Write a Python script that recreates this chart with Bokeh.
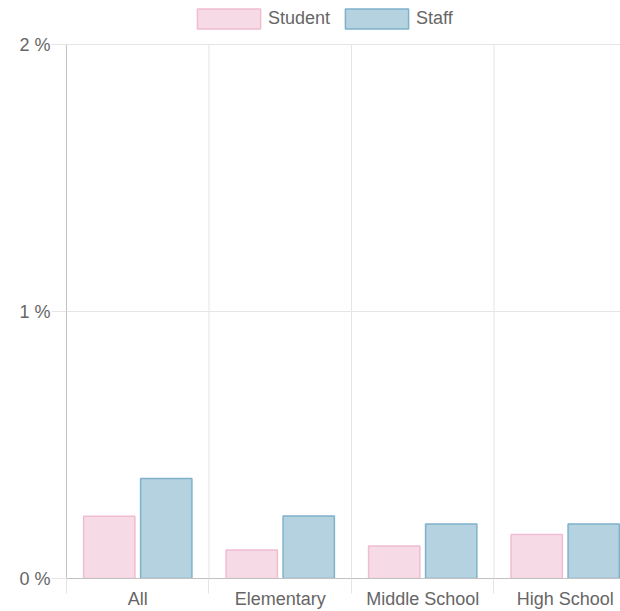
from bokeh.plotting import figure
from bokeh.models import ColumnDataSource, Range1d, FixedTicker, Legend, LegendItem
from bokeh.transform import dodge
from bokeh.embed import file_html
from bokeh.resources import INLINE

# Share of each group, in percent
categories = ["All", "Elementary", "Middle School", "High School"]
student = [0.233, 0.107, 0.122, 0.165]
staff = [0.375, 0.234, 0.204, 0.204]
y_ticks = [0, 1, 2]
y_tick_labels = ["0 %", "1 %", "2 %"]

FONT = "Liberation Sans"
TEXT = "#666666"
GRID = "#e5e5e5"
ZERO = "#c2c2c2"

slots = [i + 0.5 for i in range(len(categories))]
bounds = list(range(len(categories)))
src = ColumnDataSource(dict(slot=slots, student=student, staff=staff))

y_max = y_ticks[-1]
# the frame runs to the top edge; the extra headroom above 2 % holds the legend
p = figure(width=620, height=611, output_backend="svg", toolbar_location=None,
           x_range=Range1d(0, 3.888), y_range=Range1d(0, y_max * 1.0824),
           min_border_left=66, min_border_right=0,
           min_border_top=0, min_border_bottom=33)
p.outline_line_color = None
p.background_fill_color = "white"

# category dividers, from the baseline up to the top tick
p.segment(x0=bounds[1:], x1=bounds[1:], y0=0, y1=y_max, line_color=GRID, line_width=1)

r_student = p.vbar(x=dodge("slot", -0.2), top="student", width=0.36, source=src,
                   fill_color="#f6dbe7", line_color="#f0bcd2", line_width=1.5)
r_staff = p.vbar(x=dodge("slot", 0.2), top="staff", width=0.36, source=src,
                 fill_color="#b4d2e0", line_color="#7fb1cb", line_width=1.5)

# x axis: labels centred in each category, boundary ticks below the axis
xa = p.xaxis[0]
xa.ticker = FixedTicker(ticks=slots, minor_ticks=bounds)
xa.major_label_overrides = {s: c for s, c in zip(slots, categories)}
xa.major_tick_line_color = None
xa.major_tick_out = 0
xa.major_tick_in = 0
xa.minor_tick_out = 15
xa.minor_tick_in = 0
xa.minor_tick_line_color = GRID
xa.axis_line_color = ZERO
xa.major_label_standoff = -5
xa.major_label_text_font = FONT
xa.major_label_text_font_size = "18px"
xa.major_label_text_color = TEXT

ya = p.yaxis[0]
ya.bounds = (0, y_max)
ya.ticker = FixedTicker(ticks=y_ticks)
ya.major_label_overrides = {t: l for t, l in zip(y_ticks, y_tick_labels)}
ya.major_tick_out = 15
ya.major_tick_in = 0
ya.major_tick_line_color = GRID
ya.minor_tick_line_color = None
ya.axis_line_color = ZERO
ya.major_label_standoff = 1
ya.major_label_text_font = FONT
ya.major_label_text_font_size = "18px"
ya.major_label_text_color = TEXT

p.xgrid.visible = False
p.ygrid.ticker = FixedTicker(ticks=y_ticks)
p.ygrid.grid_line_color = GRID

legend = Legend(items=[LegendItem(label="Student", renderers=[r_student]),
                       LegendItem(label="Staff", renderers=[r_staff])],
                orientation="horizontal", location=(123, 547),
                glyph_width=79, glyph_height=25, label_height=25,
                label_text_font=FONT, label_text_font_size="18px",
                label_text_color=TEXT, label_standoff=0, spacing=7,
                padding=0, margin=0, border_line_color=None,
                background_fill_alpha=0)
p.add_layout(legend)

open("out.html", "w").write(file_html(p, INLINE))
